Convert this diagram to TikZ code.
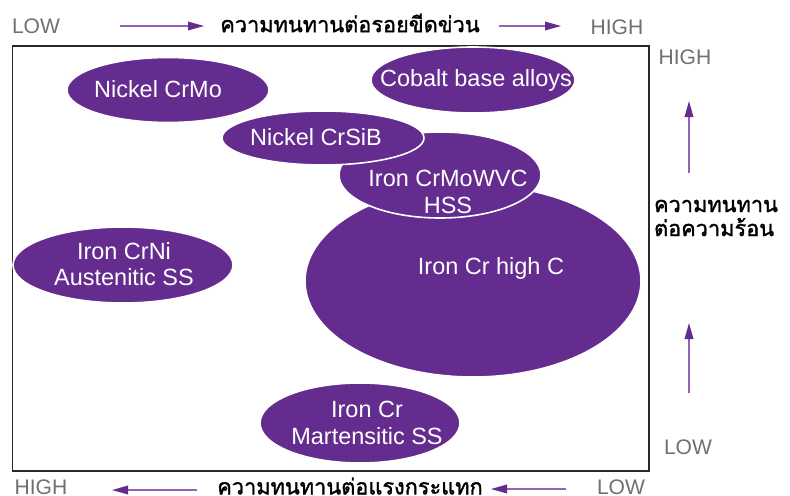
\documentclass[tikz,border=0pt]{standalone}
\usepackage{fontspec}
\setmainfont{Liberation Sans}
\newfontfamily\thaifont[Script=Thai,AutoFakeBold=1.5]{Loma}
\usetikzlibrary{arrows.meta}

\definecolor{blobpurple}{RGB}{101,44,143}
\definecolor{linepurple}{RGB}{150,100,175}
\definecolor{tipgray}{RGB}{112,112,112}

\tikzset{every picture/.style={line width=0.75pt}}
\tikzset{
  blob/.style={fill=blobpurple, draw=white, line width=1.2pt},
  blobtext/.style={text=white, font=\fontsize{17.6}{20}\selectfont, align=center, inner sep=0pt},
  endtext/.style={text=tipgray, font=\fontsize{15.8}{18}\selectfont, inner sep=0pt},
  axistext/.style={font=\thaifont\bfseries\fontsize{16.3}{18}\selectfont, align=left, inner sep=0pt},
  axisarrow/.style={draw=linepurple, line width=1pt, -{Triangle[length=12pt, width=6.5pt, color=blobpurple]}}
}

\begin{document}
\begin{tikzpicture}[x=0.75pt,y=0.75pt,yscale=-1,xscale=1]
	\useasboundingbox (0,0) rectangle (790,496);

	%Shape: Rectangle [id:frame] 
	\draw [color={rgb, 255:red, 40; green, 40; blue, 40 }, line width=1pt] (12.5,46) rectangle (649,471) ;

	%Shape: Ellipse [id:crni] 
	\draw [blob] (123,265) ellipse (110 and 38) ;
	%Shape: Ellipse [id:crmo] 
	\draw [blob] (168,90) ellipse (101 and 32.5) ;
	%Shape: Ellipse [id:mart] 
	\draw [blob] (360,423) ellipse (100 and 40) ;
	%Shape: Ellipse [id:highc] 
	\draw [blob] (473,281) ellipse (168 and 96) ;
	%Shape: Ellipse [id:hss] 
	\draw [blob] (440,175) ellipse (101 and 43) ;
	%Shape: Ellipse [id:crsib] 
	\draw [blob] (323,138) ellipse (101 and 27) ;
	%Shape: Ellipse [id:cobalt] 
	\draw [blob] (473,80) ellipse (102 and 33) ;

	% Text Node
	\node [blobtext] (lcrmo) at (158,89) {Nickel CrMo};
	% Text Node
	\node [blobtext] (lcobalt) at (476,80) {Cobalt base alloys};
	% Text Node
	\node [blobtext] (lcrsib) at (316,137) {Nickel CrSiB};
	% Text Node
	\node [blobtext] (lhss) at (448,192) {Iron CrMoWVC\\HSS};
	% Text Node
	\node [blobtext] (lhighc) at (491,268) {Iron Cr high C};
	% Text Node
	\node [blobtext] (lcrni) at (124,264) {Iron CrNi\\Austenitic SS};
	% Text Node
	\node [blobtext] (lmart) at (367,423) {Iron Cr\\Martensitic SS};

	% Text Node
	\node [endtext] (toplow) at (36,26) {LOW};
	% Text Node
	\node [axistext] (toptitle) at (350,23) {ความทนทานต่อรอยขีดข่วน};
	% Text Node
	\node [endtext] (tophigh) at (617,27) {HIGH};
	% Text Node
	\node [endtext] (righthigh) at (685,57) {HIGH};
	% Text Node
	\node [axistext] (righttitle) at (716,218) {ความทนทาน\\ต่อความร้อน};
	% Text Node
	\node [endtext] (rightlow) at (688,447) {LOW};
	% Text Node
	\node [endtext] (bothigh) at (41,487) {HIGH};
	% Text Node
	\node [axistext] (bottitle) at (350,486) {ความทนทานต่อแรงกระแทก};
	% Text Node
	\node [endtext] (botlow) at (621,487) {LOW};

	%Straight Lines [id:toparrows] 
	\coordinate (ta1) at (120,26);
	\coordinate (tb1) at (204,26);
	\coordinate (ta2) at (499,26);
	\coordinate (tb2) at (561,26);
	\draw [axisarrow] (ta1) -- (tb1) ;
	\draw [axisarrow] (ta2) -- (tb2) ;
	%Straight Lines [id:rightarrows] 
	\coordinate (ra1) at (689,173);
	\coordinate (rb1) at (689,101);
	\coordinate (ra2) at (689,393);
	\coordinate (rb2) at (689,323);
	\draw [axisarrow] (ra1) -- (rb1) ;
	\draw [axisarrow] (ra2) -- (rb2) ;
	%Straight Lines [id:botarrows] 
	\coordinate (ba1) at (197,490);
	\coordinate (bb1) at (112,490);
	\coordinate (ba2) at (566,489);
	\coordinate (bb2) at (491,489);
	\draw [axisarrow] (ba1) -- (bb1) ;
	\draw [axisarrow] (ba2) -- (bb2) ;

\end{tikzpicture}
\end{document}
